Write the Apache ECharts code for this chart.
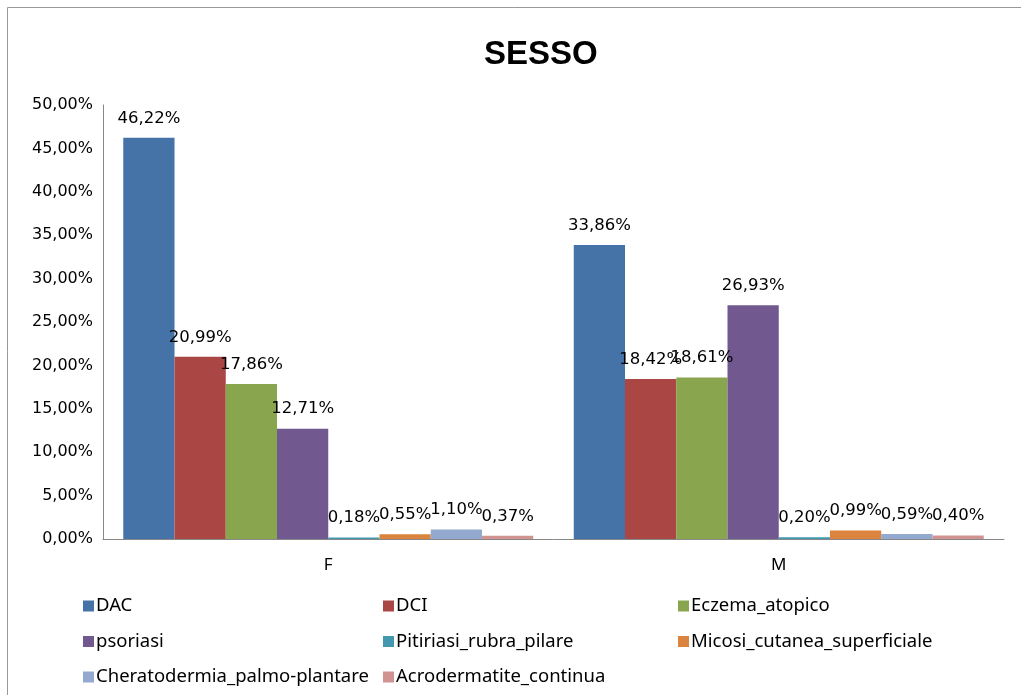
<!DOCTYPE html>
<html><head><meta charset="utf-8">
<script src="https://cdn.jsdelivr.net/npm/echarts@6/dist/echarts.min.js"></script>
<style>html,body{margin:0;padding:0;background:#fff}#c{width:1021px;height:695px}</style>
</head><body><div id="c"></div>
<script>
const categories = ['F', 'M'];
const seriesNames = ['DAC','DCI','Eczema_atopico','psoriasi','Pitiriasi_rubra_pilare','Micosi_cutanea_superficiale','Cheratodermia_palmo-plantare','Acrodermatite_continua'];
const DAC = [46.22, 33.86];
const DCI = [20.99, 18.42];
const Eczema_atopico = [17.86, 18.61];
const psoriasi = [12.71, 26.93];
const Pitiriasi_rubra_pilare = [0.18, 0.20];
const Micosi_cutanea_superficiale = [0.55, 0.99];
const Cheratodermia_palmo_plantare = [1.10, 0.59];
const Acrodermatite_continua = [0.37, 0.40];
const yTicks = [0,5,10,15,20,25,30,35,40,45,50];

const values = [DAC, DCI, Eczema_atopico, psoriasi, Pitiriasi_rubra_pilare, Micosi_cutanea_superficiale, Cheratodermia_palmo_plantare, Acrodermatite_continua];
const colors = ['#4572A7','#AA4643','#89A54E','#71588F','#4198AF','#DB843D','#93A9CF','#D19392'];
const fmt = v => v.toFixed(2).replace('.', ',') + '%';
const legendFont = 'Noto Sans';
const chart = echarts.init(document.getElementById('c'));
const legendCommon = {
  orient: 'vertical', top: 594, itemWidth: 11, itemHeight: 11, itemGap: 11.5,
  icon: 'rect', textStyle: {fontFamily: legendFont, fontSize: 18.5, color: '#000', padding: [0,0,0,-3], lineHeight: 24},
  selectedMode: false, padding: 0
};
chart.setOption({
  animation: false,
  color: colors,
  title: {text: 'SESSO', left: 479, top: 33, textStyle: {fontFamily: 'Liberation Sans', fontWeight: 'bold', fontSize: 33, color: '#000'}},
  graphic: [
    {type: 'line', shape: {x1: 7.5, y1: 7.5, x2: 1021, y2: 7.5}, style: {stroke: '#999', lineWidth: 1}},
    {type: 'line', shape: {x1: 7.5, y1: 7.5, x2: 7.5, y2: 695}, style: {stroke: '#999', lineWidth: 1}}
  ],
  legend: [
    Object.assign({}, legendCommon, {left: 83, data: [seriesNames[0], seriesNames[3], seriesNames[6]]}),
    Object.assign({}, legendCommon, {left: 383, data: [seriesNames[1], seriesNames[4], seriesNames[7]]}),
    Object.assign({}, legendCommon, {left: 678, data: [seriesNames[2], seriesNames[5]]})
  ],
  grid: {left: 103, right: 17, top: 105, bottom: 156, containLabel: false},
  xAxis: {
    type: 'category', data: categories,
    axisLine: {lineStyle: {color: '#888'}}, axisTick: {show: false},
    axisLabel: {fontFamily: legendFont, fontSize: 17, color: '#000', margin: 18}
  },
  yAxis: {
    type: 'value', min: 0, max: 50, interval: 5,
    axisLine: {show: true, lineStyle: {color: '#888'}}, axisTick: {show: false},
    splitLine: {show: false},
    axisLabel: {fontFamily: 'DejaVu Sans', fontSize: 16, color: '#000', margin: 10,
      formatter: v => yTicks.includes(v) ? v.toFixed(2).replace('.', ',') + '%' : ''}
  },
  series: values.map((d, i) => ({
    name: seriesNames[i], type: 'bar', data: d,
    barGap: '0%', barCategoryGap: '9%',
    itemStyle: {color: colors[i]},
    label: {show: true, position: 'top', distance: 11, fontFamily: 'DejaVu Sans', fontSize: 16.5, color: '#000',
      formatter: p => fmt(p.value)}
  }))
});
</script></body></html>
